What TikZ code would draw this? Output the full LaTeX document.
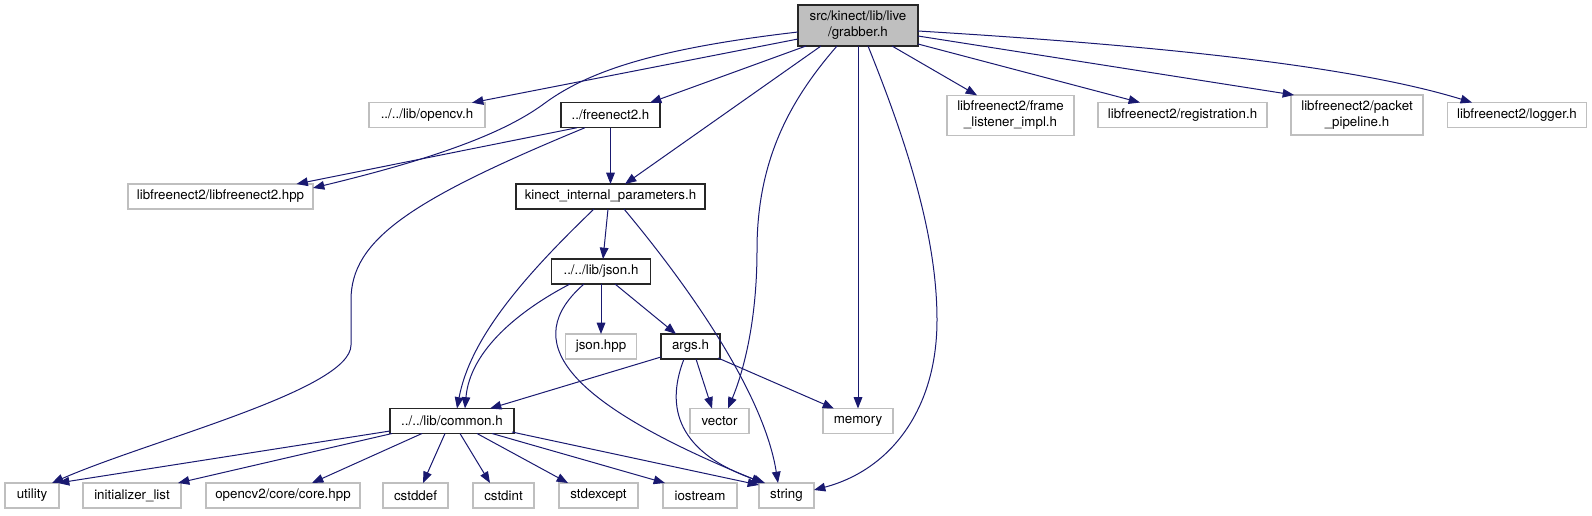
\documentclass[tikz,border=0pt]{standalone}
\usepackage{fontspec}
\setmainfont{TeX Gyre Heros}
\usetikzlibrary{arrows.meta,calc}
\definecolor{eblue}{HTML}{191970}
\definecolor{gseventyfive}{HTML}{BFBFBF}
\begin{document}
\begin{tikzpicture}[x=0.75pt,y=-0.75pt,
  box/.style={rectangle, inner sep=0pt, minimum height=18.75pt, align=center,
    font=\fontsize{10}{12}\selectfont, line width=1pt},
  ext/.style={box, draw=gseventyfive},
  loc/.style={box, draw=black!85},
  e/.style={draw=eblue, line width=0.75pt, -{Triangle[length=8.5pt,width=6.5pt]}},
]
\useasboundingbox (0,0) rectangle (1592,515);
% nodes
\node[loc, fill=gseventyfive, minimum width=90pt, minimum height=30.75pt] (grabber) at (858,25.5) {src/kinect/lib/live\\/grabber.h};
\node[ext, minimum width=87pt] (opencv) at (427,115.2) {../../lib/opencv.h};
\node[loc, minimum width=74.25pt] (freenect) at (610.5,115.2) {../freenect2.h};
\node[ext, minimum width=95.25pt, minimum height=30pt] (frame) at (1010.5,115.3) {libfreenect2/frame\\\_listener\_impl.h};
\node[ext, minimum width=126.75pt] (registration) at (1182.5,115) {libfreenect2/registration.h};
\node[ext, minimum width=99pt, minimum height=30pt] (packet) at (1357,115) {libfreenect2/packet\\\_pipeline.h};
\node[ext, minimum width=104.25pt] (logger) at (1517,115) {libfreenect2/logger.h};
\node[ext, minimum width=138.75pt] (hpp) at (220.5,196.5) {libfreenect2/libfreenect2.hpp};
\node[loc, minimum width=141.75pt] (kinect) at (610.5,196.5) {kinect\_internal\_parameters.h};
\node[loc, minimum width=74.25pt] (jsonh) at (601,271.5) {../../lib/json.h};
\node[ext, minimum width=53.25pt] (jsonhpp) at (601,346.5) {json.hpp};
\node[loc, minimum width=44.25pt] (args) at (690.5,346.5) {args.h};
\node[ext, minimum width=44.25pt] (vector) at (719.5,421) {vector};
\node[ext, minimum width=52.5pt] (memory) at (858,421) {memory};
\node[loc, minimum width=93pt] (common) at (452,421) {../../lib/common.h};
\node[ext, minimum width=40.5pt] (utility) at (32,495.5) {utility};
\node[ext, minimum width=73.5pt] (initlist) at (132,495.5) {initializer\_list};
\node[ext, minimum width=115.5pt] (core) at (283,495.5) {opencv2/core/core.hpp};
\node[ext, minimum width=48.75pt] (cstddef) at (415.5,495.5) {cstddef};
\node[ext, minimum width=45.75pt] (cstdint) at (503.5,495.5) {cstdint};
\node[ext, minimum width=59.25pt] (stdexcept) at (598.5,495.5) {stdexcept};
\node[ext, minimum width=55.5pt] (iostream) at (700,495.5) {iostream};
\node[ext, minimum width=41.25pt] (string) at (786.5,495.5) {string};
% edges from grabber
\draw[e] ($(grabber)+(-60,13.5)$) -- ($(opencv)+(45,-12.5)$);
\draw[e] ($(grabber)+(-60,6.5)$) .. controls (660,48) and (590,70) .. (545,103) .. controls (510,129) and (450,155) .. ($(hpp)+(92.5,-8.5)$);
\draw[e] ($(grabber)+(-52,20.5)$) -- ($(freenect)+(39.5,-12.5)$);
\draw[e] ($(grabber)+(-37,20.5)$) -- ($(kinect)+(14.5,-12.5)$);
\draw[e] ($(grabber)+(-21,20.5)$) .. controls (790,100) and (757,160) .. (757,250) .. controls (757,330) and (740,380) .. ($(vector)+(8.5,-12.5)$);
\draw[e] ($(grabber)+(0,20.5)$) -- ($(memory)+(0,-12.5)$);
\draw[e] ($(grabber)+(10,20.5)$) .. controls (910,150) and (937,240) .. (937,320) .. controls (937,410) and (890,470) .. ($(string)+(27.5,-5.5)$);
\draw[e] ($(grabber)+(34,20.5)$) -- ($(frame)+(-33.5,-20)$);
\draw[e] ($(grabber)+(60,18.5)$) -- ($(registration)+(-42.5,-12.5)$);
\draw[e] ($(grabber)+(60,10.5)$) -- ($(packet)+(-63,-20)$);
\draw[e] ($(grabber)+(60,5.5)$) .. controls (1150,45) and (1350,65) .. ($(logger)+(-45,-12.5)$);
% from freenect2.h
\draw[e] ($(freenect)+(-33.5,12.5)$) -- ($(hpp)+(76,-12.5)$);
\draw[e] ($(freenect)+(-25.5,12.5)$) .. controls (410,200) and (351,240) .. (351,300) -- (351,345) .. controls (351,390) and (150,440) .. ($(utility)+(20,-12.5)$);
\draw[e] ($(freenect)+(0,12.5)$) -- ($(kinect)+(0,-12.5)$);
% from kinect_internal_parameters.h
\draw[e] ($(kinect)+(-2.5,12.5)$) -- ($(jsonh)+(2,-12.5)$);
\draw[e] ($(kinect)+(-16.5,12.5)$) .. controls (520,280) and (470,340) .. ($(common)+(5,-12.5)$);
\draw[e] ($(kinect)+(13.5,12.5)$) .. controls (700,300) and (765,400) .. ($(string)+(-8.5,-12.5)$);
% from json.h
\draw[e] ($(jsonh)+(0,12.5)$) -- ($(jsonhpp)+(0,-12.5)$);
\draw[e] ($(jsonh)+(14,12.5)$) -- ($(args)+(-14.5,-12.5)$);
\draw[e] ($(jsonh)+(-31,12.5)$) .. controls (520,310) and (470,350) .. ($(common)+(13,-12.5)$);
\draw[e] ($(jsonh)+(-17,12.5)$) .. controls (520,340) and (560,400) .. ($(string)+(-23.5,-12.5)$);
% from args.h
\draw[e] ($(args)+(-29.5,10.5)$) -- ($(common)+(38,-12.5)$);
\draw[e] ($(args)+(5.5,12.5)$) -- ($(vector)+(-7.5,-12.5)$);
\draw[e] ($(args)+(27.5,11.5)$) -- ($(memory)+(-24,-12.5)$);
\draw[e] ($(args)+(-6.5,12.5)$) .. controls (668,400) and (670,450) .. ($(string)+(-21.5,-12.5)$);
% from common.h
\draw[e] ($(common)+(-62,10)$) -- ($(utility)+(26,-12.5)$);
\draw[e] ($(common)+(-60,12.5)$) -- ($(initlist)+(46,-12.5)$);
\draw[e] ($(common)+(-30,12.5)$) -- ($(core)+(29,-12.5)$);
\draw[e] ($(common)+(-7,12.5)$) -- ($(cstddef)+(7.5,-12.5)$);
\draw[e] ($(common)+(8,12.5)$) -- ($(cstdint)+(-13.5,-12.5)$);
\draw[e] ($(common)+(25,12.5)$) -- ($(stdexcept)+(-30.5,-12.5)$);
\draw[e] ($(common)+(40,12.5)$) -- ($(iostream)+(-35,-12.5)$);
\draw[e] ($(common)+(60,11)$) -- ($(string)+(-27.5,-10.5)$);
\end{tikzpicture}
\end{document}
